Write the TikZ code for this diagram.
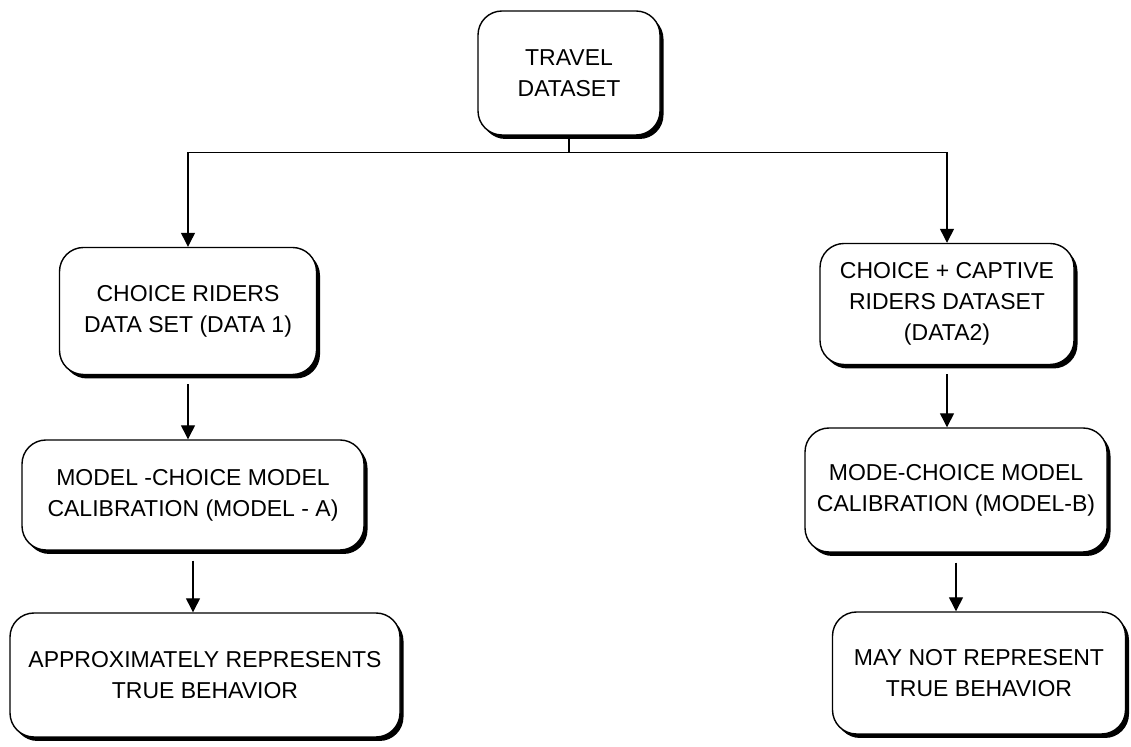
\documentclass[tikz,border=0pt]{standalone}
\usepackage{fontspec}
\setmainfont{Liberation Sans}
\usetikzlibrary{arrows.meta,shadows}

\begin{document}
\begin{tikzpicture}[x=1pt,y=1pt,
    stage/.style={draw, line width=1.4pt, rounded corners=24pt, fill=white,
      align=center, inner sep=0pt, font=\fontsize{23}{31}\selectfont,
      drop shadow={shadow xshift=3.5pt, shadow yshift=-4pt, fill=black, opacity=1}},
    flow/.style={line width=1.3pt, -{Triangle[width=14pt,length=14pt]}}]
  \useasboundingbox (0,0) rectangle (1131,746);

  % top
  \node[stage, minimum width=182pt, minimum height=124pt] (travel) at (569,673) {TRAVEL\\DATASET};
  \coordinate (split) at ([yshift=-17pt]travel.south);

  % left branch
  \node[stage, minimum width=257pt, minimum height=127pt] (data1) at (188,435) {CHOICE RIDERS\\DATA SET (DATA 1)};
  \node[stage, minimum width=342pt, minimum height=110pt] (modela) at (193,251) {MODEL -CHOICE MODEL\\CALIBRATION (MODEL - A)};
  \node[stage, minimum width=390pt, minimum height=124pt] (approx) at (205,71) {APPROXIMATELY REPRESENTS\\TRUE BEHAVIOR};

  % right branch
  \node[stage, minimum width=254pt, minimum height=121pt] (data2) at (947,442) {CHOICE + CAPTIVE\\RIDERS DATASET\\(DATA2)};
  \node[stage, minimum width=302pt, minimum height=124pt] (modelb) at (956,256) {MODE-CHOICE MODEL\\CALIBRATION (MODEL-B)};
  \node[stage, minimum width=293pt, minimum height=122pt] (maynot) at (979,73) {MAY NOT REPRESENT\\TRUE BEHAVIOR};

  % connectors
  \draw[line width=1.3pt] (travel.south) -- (split);
  \draw[flow] (split) -| (data1.north);
  \draw[flow] (split) -| (data2.north);
  \draw[flow, shorten <=9pt] (data1.south) -- (data1.south |- modela.north);
  \draw[flow, shorten <=10pt] (modela.south) -- (modela.south |- approx.north);
  \draw[flow, shorten <=9pt] (data2.south) -- (data2.south |- modelb.north);
  \draw[flow, shorten <=10pt] (modelb.south) -- (modelb.south |- maynot.north);
\end{tikzpicture}
\end{document}
